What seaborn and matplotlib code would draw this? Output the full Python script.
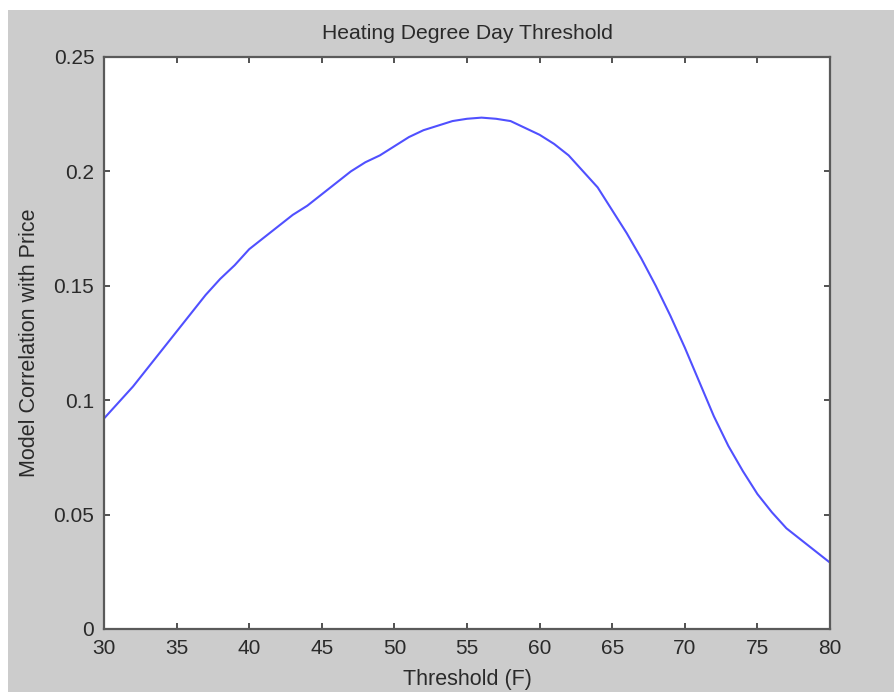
import matplotlib
matplotlib.use("Agg")
import matplotlib.pyplot as plt
from matplotlib.patches import Rectangle
import seaborn as sns
import pandas as pd

threshold = list(range(30, 81))
correlation = [
    0.092, 0.099, 0.106, 0.114, 0.122, 0.130, 0.138, 0.146, 0.153, 0.159,
    0.166, 0.171, 0.176, 0.181, 0.185, 0.190, 0.195, 0.200, 0.204, 0.207,
    0.211, 0.215, 0.218, 0.220, 0.222, 0.223, 0.2235, 0.223, 0.222, 0.219,
    0.216, 0.212, 0.207, 0.200, 0.193, 0.183, 0.173, 0.162, 0.150, 0.137,
    0.123, 0.108, 0.093, 0.080, 0.069, 0.059, 0.051, 0.044, 0.039, 0.034,
    0.029,
]
x_ticks = [30, 35, 40, 45, 50, 55, 60, 65, 70, 75, 80]
y_ticks = [0, 0.05, 0.1, 0.15, 0.2, 0.25]
y_tick_labels = ["0", "0.05", "0.1", "0.15", "0.2", "0.25"]

df = pd.DataFrame({"Threshold": threshold, "Correlation": correlation})

sns.set_style("ticks")
plt.rcParams["font.family"] = ["Liberation Sans", "DejaVu Sans"]

W, H = 895, 692
fig = plt.figure(figsize=(W / 100, H / 100), dpi=100, facecolor="white")
fig.patches.append(Rectangle((8 / W, 0), (W - 8) / W, (H - 10) / H,
                             transform=fig.transFigure, facecolor="#cccccc",
                             edgecolor="none", zorder=-10))
ax = fig.add_axes([104 / W, (H - 629) / H, 726 / W, 572 / H])
ax.set_facecolor("white")

sns.lineplot(data=df, x="Threshold", y="Correlation", ax=ax,
             color="#5050ff", linewidth=1.5)

ax.set_xlim(30, 80)
ax.set_ylim(0, 0.25)
ax.set_xticks(x_ticks)
ax.set_xticklabels([str(t) for t in x_ticks])
ax.set_yticks(y_ticks)
ax.set_yticklabels(y_tick_labels)

for s in ax.spines.values():
    s.set_visible(True)
    s.set_color("#5a5a5a")
    s.set_linewidth(1.6)

ax.tick_params(direction="in", length=4, width=1.2, color="#333333",
               top=True, right=True, labelsize=15, labelcolor="#2a2a2a")
ax.tick_params(axis="x", pad=7)
ax.tick_params(axis="y", pad=7)

ax.set_title("Heating Degree Day Threshold", fontsize=15.2, color="#2a2a2a", pad=13)
ax.set_xlabel("Threshold (F)", fontsize=15.5, color="#2a2a2a", labelpad=8)
ax.set_ylabel("Model Correlation with Price", fontsize=15.5, color="#2a2a2a", labelpad=10)

fig.savefig("out.png", dpi=100)
